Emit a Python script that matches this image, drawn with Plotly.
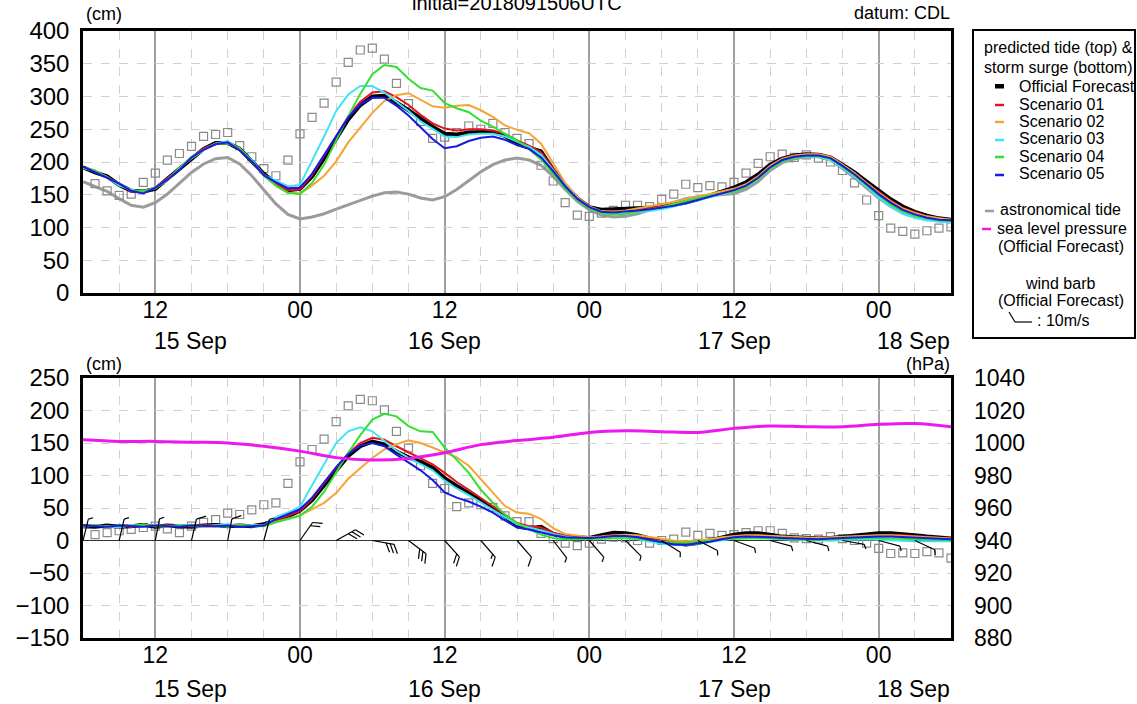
import math
import plotly.graph_objects as go

# ---------------------------------------------------------------------------
# Data: hourly values from the 2018-09-15 06UTC initial time (hour 0) to +72h
# ---------------------------------------------------------------------------
hours = list(range(73))

# astronomical tide (cm, datum CDL)
astro_tide = [170, 163, 155, 144, 134, 131, 138, 151, 167, 184, 197, 205, 207, 197, 179, 157, 136, 120,
              113, 116, 121, 128, 135, 142, 148, 153, 154, 151, 145, 142, 147, 158, 172, 185, 196, 203,
              206, 203, 195, 178, 158, 140, 127, 119, 116, 117, 121, 127, 133, 139, 144, 147, 149, 150,
              152, 158, 170, 187, 199, 205, 208, 208, 203, 190, 176, 160, 145, 132, 122, 116, 112, 110, 109]

# storm surge (cm)
surge_official = [22, 21, 23, 21, 22, 24, 21, 23, 22, 21, 23, 24, 22, 23, 22, 25,
                  31, 37, 46, 62, 85, 108, 130, 145, 152, 148,
                  137, 128, 121, 112, 96, 84, 73, 61, 50, 37,
                  22, 19, 21, 10, 6, 5, 4, 8, 12, 11,
                  8, 3, -2, -4, -6, -4, 0, 4, 9, 11,
                  11, 9, 6, 5, 4, 3, 4, 6, 8, 10,
                  11, 11, 10, 8, 6, 4, 3]
surge_s01 = [23, 22, 22, 23, 21, 23, 22, 24, 22, 22, 24, 23, 23, 22, 23, 24,
             31, 37, 45, 64, 88, 112, 134, 150, 158, 155,
             145, 136, 127, 117, 104, 90, 78, 65, 52, 40,
             27, 22, 20, 12, 7, 5, 4, 6, 9, 8,
             6, 2, -1, -3, -4, -2, 1, 4, 7, 8,
             8, 7, 5, 4, 3, 3, 4, 5, 7, 8,
             9, 9, 8, 7, 5, 4, 3]
surge_s02 = [22, 23, 22, 21, 23, 22, 24, 22, 23, 22, 21, 23, 22, 24, 22, 23,
             28, 33, 39, 48, 58, 73, 95, 111, 127, 140,
             148, 154, 150, 143, 136, 128, 115, 94, 73, 53,
             43, 41, 33, 19, 10, 7, 5, 6, 8, 9,
             8, 5, 2, 0, -1, 0, 2, 5, 7, 8,
             8, 7, 6, 5, 4, 4, 5, 6, 7, 8,
             8, 8, 7, 6, 5, 4, 3]
surge_s03 = [21, 23, 22, 20, 24, 22, 23, 21, 24, 22, 21, 23, 25, 22, 24, 23,
             36, 43, 52, 85, 118, 150, 168, 174, 168, 153,
             138, 127, 117, 108, 92, 80, 70, 58, 47, 36,
             25, 20, 16, 10, 6, 4, 3, 3, 4, 4,
             2, -2, -5, -7, -7, -5, -2, 1, 3, 4,
             4, 3, 2, 1, 0, 0, 0, 1, 2, 2,
             1, 0, -1, -1, -1, -1, -1]
surge_s04 = [22, 24, 21, 23, 22, 25, 22, 21, 23, 24, 22, 23, 21, 24, 22, 22,
             28, 33, 38, 52, 75, 105, 135, 162, 186, 195,
             191, 176, 168, 167, 143, 124, 104, 78, 58, 40,
             27, 17, 9, 4, 2, 2, 2, 3, 4, 4,
             3, 0, -2, -3, -3, -2, 0, 2, 3, 4,
             4, 3, 2, 1, 1, 1, 2, 3, 4, 4,
             4, 3, 3, 2, 2, 1, 1]
surge_s05 = [23, 22, 21, 23, 22, 21, 23, 22, 21, 23, 22, 22, 23, 21, 22, 23,
             33, 40, 48, 66, 90, 113, 133, 146, 150, 145,
             132, 120, 108, 93, 74, 66, 60, 52, 43, 31,
             20, 17, 12, 8, 5, 4, 4, 5, 7, 7,
             5, 1, -3, -6, -7, -5, -2, 2, 5, 6,
             6, 5, 4, 3, 2, 2, 3, 4, 5, 6,
             6, 6, 5, 4, 3, 2, 2]

# observed tide level (cm) and observed storm surge (cm)
obs_tide = [None, 167, 156, 149, 151, 169, 183, 203, 213, 224,
            239, 242, 245, 225, 208, 190, 179, 203, 243, 268,
            290, 322, 352, 371, 374, 357, 320, 289, 262, 236,
            238, 245, 255, 250, 259, 245, 236, 228, 195, 171,
            138, 119, 117, 122, 126, 134, 134, 132, 143, 151,
            166, 161, 164, 162, 169, 183, 198, 208, 212, 207,
            211, 206, 200, 187, 168, 142, 118, 99, 94, 90,
            95, 99, 101]
obs_surge = [None, 9, 12, 15, 17, 20, 22, 18, 12, 22,
             28, 32, 42, 40, 47, 55, 58, 88, 121, 140,
             156, 183, 207, 217, 215, 201, 168, 142, 115, 88,
             80, 52, 58, 55, 51, 38, 29, 29, 11, 3,
             -4, -8, -4, 2, 5, 4, 0, -4, 0, 2,
             13, 8, 11, 8, 9, 12, 15, 15, 11, 4,
             3, 2, 6, 3, 0, -4, -12, -20, -19, -20,
             -17, -19, -27]

# 3-hourly sea level pressure (hPa) and wind (Official Forecast)
hours_3h = [0, 3, 6, 9, 12, 15, 18, 21, 24, 27, 30, 33, 36, 39, 42, 45, 48, 51, 54, 57, 60, 63, 66, 69, 72]
pressure = [1002, 1001, 1001, 1000.5, 1000, 998, 995, 991, 989.5, 990.5, 994, 999, 1001.5,
            1003.5, 1006.5, 1007.5, 1007, 1006.5, 1009, 1010.5, 1010, 1010, 1011.5, 1012, 1010]
wind_dir = [14, 13, 11, 13, 11, 15, 35, 61, 100, 127, 138, 139, 139,
            142, 139, 135, 122, 117, 110, 105, 105, 100, 105, 115, 120]
wind_speed = [5, 5, 5, 10, 10, 5, 20, 30, 30, 30, 20, 15, 10,
              5, 5, 5, 5, 5, 5, 5, 5, 5, 5, 5, 5]

major_hours = [6, 18, 30, 42, 54, 66]
major_labels = ["12", "00", "12", "00", "12", "00"]
day_labels = ["15 Sep", "16 Sep", "17 Sep", "18 Sep"]

scenarios = [
    ("Scenario 01", surge_s01, "#e3121c"),
    ("Scenario 02", surge_s02, "#f4a534"),
    ("Scenario 03", surge_s03, "#3fe4f4"),
    ("Scenario 04", surge_s04, "#33df33"),
    ("Scenario 05", surge_s05, "#1919e4"),
]

# ---------------------------------------------------------------------------
# Page geometry
# ---------------------------------------------------------------------------
W, H = 1137, 704
M_L, M_R, M_T, M_B = 83, 186, 31, 66
PW = W - M_L - M_R
PH = H - M_T - M_B
TOP_DOMAIN = [1 - 262 / PH, 1]
BOT_DOMAIN = [0, 1 - 347 / PH]
FONT = "Liberation Sans, Arial, sans-serif"


def fx(px):
    return (px - M_L) / PW


def fy(py):
    return (H - M_B - py) / PH


fig = go.Figure()

# predicted tide = astronomical tide + storm surge
def total(surge):
    return [a + s for a, s in zip(astro_tide, surge)]


# ---------------- top panel ----------------
fig.add_trace(go.Scatter(x=hours, y=astro_tide, mode="lines",
                         line=dict(color="#9b9b9b", width=3), xaxis="x", yaxis="y"))
fig.add_trace(go.Scatter(x=hours, y=obs_tide, mode="markers",
                         marker=dict(symbol="square-open", size=8, color="#8a8a8a", line=dict(width=1.2)),
                         xaxis="x", yaxis="y"))
fig.add_trace(go.Scatter(x=hours, y=total(surge_official), mode="lines",
                         line=dict(color="black", width=4), xaxis="x", yaxis="y"))
for name, s, c in scenarios:
    fig.add_trace(go.Scatter(x=hours, y=total(s), mode="lines", name=name,
                             line=dict(color=c, width=2), xaxis="x", yaxis="y"))

# ---------------- bottom panel ----------------
fig.add_trace(go.Scatter(x=hours, y=obs_surge, mode="markers",
                         marker=dict(symbol="square-open", size=8, color="#8a8a8a", line=dict(width=1.2)),
                         xaxis="x2", yaxis="y2"))
fig.add_trace(go.Scatter(x=hours, y=surge_official, mode="lines",
                         line=dict(color="black", width=4), xaxis="x2", yaxis="y2"))
for name, s, c in scenarios:
    fig.add_trace(go.Scatter(x=hours, y=s, mode="lines", name=name,
                             line=dict(color=c, width=2), xaxis="x2", yaxis="y2"))

# wind barbs on the zero line: staff toward the wind origin, one full barb per 10 m/s
px_per_hour = PW / 72.0
px_per_cm = (BOT_DOMAIN[1] - BOT_DOMAIN[0]) * PH / 400.0
STAFF, FEATHER, GAP = 22.0, 10.0, 4.0
bx, by = [], []


def seg(x0, y0, x1, y1, t):
    bx.extend([t + x0 / px_per_hour, t + x1 / px_per_hour, None])
    by.extend([y0 / px_per_cm, y1 / px_per_cm, None])


for t, d, v in zip(hours_3h, wind_dir, wind_speed):
    th = math.radians(d)
    ux, uy = math.sin(th), math.cos(th)
    fb = math.radians(d + 60)
    vx, vy = math.sin(fb), math.cos(fb)
    tipx, tipy = STAFF * ux, STAFF * uy
    seg(0, 0, tipx, tipy, t)
    full, half = v // 10, (v % 10) >= 5
    for i in range(full):
        sx, sy = tipx - i * GAP * ux, tipy - i * GAP * uy
        seg(sx, sy, sx + FEATHER * vx, sy + FEATHER * vy, t)
    if half:
        k = full
        sx, sy = tipx - k * GAP * ux, tipy - k * GAP * uy
        seg(sx, sy, sx + 0.5 * FEATHER * vx, sy + 0.5 * FEATHER * vy, t)

fig.add_trace(go.Scatter(x=bx, y=by, mode="lines", line=dict(color="black", width=1.2),
                         xaxis="x2", yaxis="y2"))

fig.add_trace(go.Scatter(x=hours_3h, y=pressure, mode="lines", line=dict(color="#ee18ee", width=3, shape="spline"),
                         xaxis="x2", yaxis="y3"))

# ---------------------------------------------------------------------------
# Axes
# ---------------------------------------------------------------------------
minor_hours = [h for h in range(3, 72, 3) if h not in major_hours]
xcommon = dict(range=[0, 72], tickvals=major_hours, ticktext=major_labels,
               showgrid=True, gridcolor="#a0a0a0", gridwidth=2,
               minor=dict(tickvals=minor_hours, showgrid=True, gridcolor="#d0d0d0",
                          griddash="dash", gridwidth=1),
               showline=True, linecolor="black", linewidth=2.5, mirror=True,
               ticks="", tickfont=dict(size=23, color="black", family=FONT),
               ticklabelstandoff=-5, zeroline=False, fixedrange=True, automargin=False)
ycommon = dict(showgrid=True, gridcolor="#d0d0d0", griddash="dash", gridwidth=1,
               showline=True, linecolor="black", linewidth=2.5, mirror=True,
               ticks="", tickfont=dict(size=24, color="black", family=FONT),
               ticklabelstandoff=6, dtick=50, automargin=False)

fig.update_layout(
    width=W, height=H,
    margin=dict(l=M_L, r=M_R, t=M_T, b=M_B, autoexpand=False),
    paper_bgcolor="white", plot_bgcolor="white",
    showlegend=False,
    font=dict(family=FONT, color="black"),
    xaxis=dict(domain=[0, 1], anchor="y", **xcommon),
    yaxis=dict(domain=TOP_DOMAIN, range=[0, 400], zeroline=False, **ycommon),
    xaxis2=dict(domain=[0, 1], anchor="y2", **xcommon),
    yaxis2=dict(domain=BOT_DOMAIN, range=[-150, 250], zeroline=True, zerolinecolor="#333333",
                zerolinewidth=1, **ycommon),
    yaxis3=dict(domain=BOT_DOMAIN, overlaying="y2", anchor="x2", side="right", range=[880, 1040], dtick=20,
                showgrid=False, zeroline=False, ticks="", showline=False, automargin=False,
                tickfont=dict(size=23, color="black", family=FONT), ticklabelstandoff=22),
)

# ---------------------------------------------------------------------------
# Text
# ---------------------------------------------------------------------------
ann = []


def text(s, px, py, xanchor="left", size=16):
    ann.append(dict(text=s, x=fx(px), y=fy(py), xref="paper", yref="paper",
                    xanchor=xanchor, yanchor="middle", showarrow=False,
                    font=dict(size=size, color="black", family=FONT)))


text("initial=2018091506UTC", 517, 3, "center", 20)
text("datum: CDL", 952, 13, "right", 18)
text("(cm)", 84, 14, "left", 18)
text("(cm)", 84, 364, "left", 18)
text("(hPa)", 952, 364, "right", 18)

# date labels under the hour ticks
day_pos = [(8.9, 341, "x"), (30, 341, "x"), (54, 341, "x"), (68.9, 341, "x"),
           (8.9, 689, "x2"), (30, 689, "x2"), (54, 689, "x2"), (68.9, 689, "x2")]
for i, (hx, py, xr) in enumerate(day_pos):
    ann.append(dict(text=day_labels[i % 4], x=hx, y=fy(py), xref=xr, yref="paper",
                    xanchor="center", yanchor="middle", showarrow=False,
                    font=dict(size=23, color="black", family=FONT)))

# legend panel
text("predicted tide (top) &", 982, 48)
text("storm surge (bottom)", 982, 67)
text("Official Forecast", 1017, 86)
leg_y = [104, 121, 139, 156, 174]
for (name, _, _), py in zip(scenarios, leg_y):
    text(name, 1017, py)
text("astronomical tide", 998, 210)
text("sea level pressure", 995, 228)
text("(Official Forecast)", 1061, 246, "center")
text("wind barb", 1060, 283, "center")
text("(Official Forecast)", 1061, 300, "center")
text(": 10m/s", 1035, 320)
fig.update_layout(annotations=ann)

shapes = [
    dict(type="rect", xref="paper", yref="paper", x0=fx(973), x1=fx(1135), y0=fy(338), y1=fy(30),
         line=dict(color="black", width=2), fillcolor="rgba(0,0,0,0)"),
    dict(type="rect", xref="paper", yref="paper", x0=fx(995), x1=fx(1004), y0=fy(88.5), y1=fy(84),
         line=dict(width=0), fillcolor="black"),
]
for (_, _, c), py in zip(scenarios, leg_y):
    shapes.append(dict(type="line", xref="paper", yref="paper", x0=fx(995), x1=fx(1004), y0=fy(py + 1),
                       y1=fy(py + 1), line=dict(color=c, width=2.5)))
shapes.append(dict(type="line", xref="paper", yref="paper", x0=fx(985), x1=fx(994), y0=fy(211), y1=fy(211),
                   line=dict(color="#9b9b9b", width=2.5)))
shapes.append(dict(type="line", xref="paper", yref="paper", x0=fx(982), x1=fx(991), y0=fy(229), y1=fy(229),
                   line=dict(color="#ee18ee", width=2.5)))
shapes.append(dict(type="line", xref="paper", yref="paper", x0=fx(1032), x1=fx(1015), y0=fy(322), y1=fy(322),
                   line=dict(color="black", width=1.2)))
shapes.append(dict(type="line", xref="paper", yref="paper", x0=fx(1015), x1=fx(1009), y0=fy(322), y1=fy(312),
                   line=dict(color="black", width=1.2)))
fig.update_layout(shapes=shapes)

fig.write_html("out.html")
